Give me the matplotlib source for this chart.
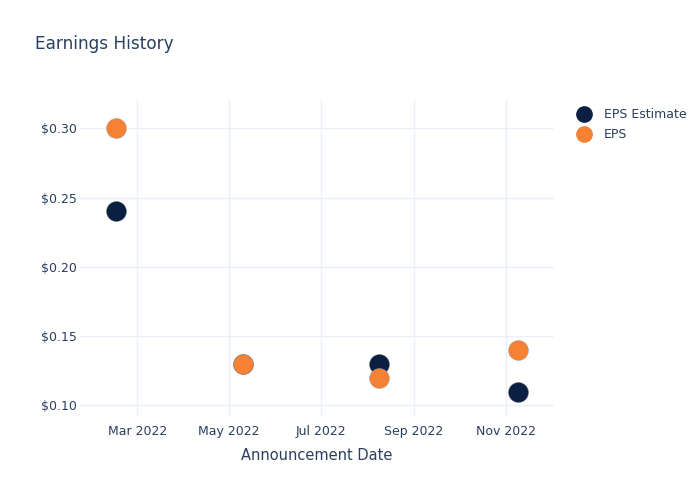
import datetime as dt
import matplotlib
matplotlib.use("Agg")
import matplotlib.pyplot as plt
import matplotlib.dates as mdates
from matplotlib.ticker import FuncFormatter
from matplotlib.lines import Line2D

# data
dates = [dt.date(2022, 2, 15), dt.date(2022, 5, 10), dt.date(2022, 8, 9), dt.date(2022, 11, 9)]
eps_estimate = [0.24, 0.13, 0.13, 0.11]
eps_actual = [0.30, 0.13, 0.12, 0.14]
tick_dates = [dt.date(2022, m, 1) for m in (3, 5, 7, 9, 11)]

txt = "#2a3f5f"
navy = "#0b1f42"
orange = "#f58134"
grid = "#ebf0f8"

plt.rcParams["font.family"] = "DejaVu Sans"

fig = plt.figure(figsize=(7, 5), dpi=100)
ax = fig.add_axes([80 / 700, 83 / 500, 474 / 700, 317 / 500])

ax.scatter(dates, eps_estimate, s=205, color=navy, edgecolor="#666666", linewidth=0.3, zorder=3)
ax.scatter(dates, eps_actual, s=205, color=orange, edgecolor="#999999", linewidth=0.3, zorder=3)

ax.set_xlim(dt.date(2022, 1, 22), dt.date(2022, 12, 3))
ax.set_ylim(0.0916, 0.3204)
ax.set_xticks(tick_dates)
ax.xaxis.set_major_formatter(mdates.DateFormatter("%b %Y"))
ax.set_yticks([0.10, 0.15, 0.20, 0.25, 0.30])
ax.yaxis.set_major_formatter(FuncFormatter(lambda v, p: f"${v:.2f}"))

for s in ax.spines.values():
    s.set_visible(False)
ax.grid(True, color=grid, linewidth=1)
ax.set_axisbelow(True)
ax.tick_params(length=0, labelsize=9, colors=txt, pad=6)
ax.tick_params(axis="y", pad=2)

ax.set_xlabel("Announcement Date", fontsize=10.5, color=txt, labelpad=7)
fig.text(35 / 700, 1 - 44 / 500, "Earnings History", fontsize=12.2, color=txt, va="center", ha="left")

handles = [
    Line2D([], [], marker="o", linestyle="", markersize=11, color=navy, label="EPS Estimate"),
    Line2D([], [], marker="o", linestyle="", markersize=11, color=orange, label="EPS"),
]
leg = fig.legend(handles=handles, loc="upper left", bbox_to_anchor=(571 / 700, 1 - 108 / 500),
                 frameon=False, fontsize=9, handletextpad=0.6, labelspacing=0.55,
                 borderaxespad=0, borderpad=0)
for t in leg.get_texts():
    t.set_color(txt)

fig.savefig("out.png", dpi=100)
